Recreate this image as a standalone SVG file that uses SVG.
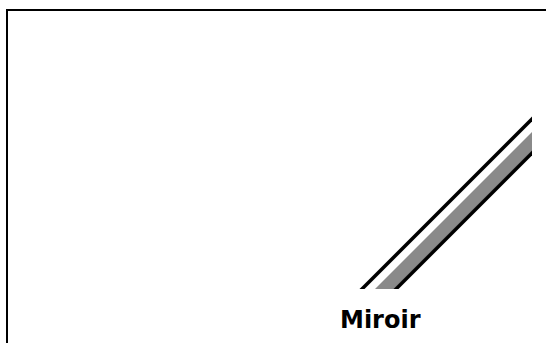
<svg xmlns="http://www.w3.org/2000/svg" width="546" height="343" viewBox="0 0 546 343">
  <style>
    .frame { fill: none; stroke: #000; stroke-width: 2; }
    .line { stroke: #000; stroke-width: 3.5; fill: none; }
    .band { fill: #8a8a8a; }
    .label { font-family: "DejaVu Sans", "Liberation Sans", sans-serif; font-weight: bold; font-size: 24px; fill: #000; }
  </style>
  <defs>
    <clipPath id="mirrorClip">
      <rect x="0" y="0" width="532" height="289"/>
    </clipPath>
  </defs>
  <rect width="546" height="343" fill="#fff"/>
  <rect class="frame" x="7" y="10" width="600" height="400"/>
  <g id="miroir">
    <g clip-path="url(#mirrorClip)">
      <polygon class="band" points="364,300 545,119 545,138 383,300"/>
      <line class="line" x1="351" y1="300" x2="545" y2="106"/>
      <line class="line" x1="385" y1="300" x2="545" y2="140"/>
    </g>
    <text class="label" x="340" y="328">Miroir</text>
  </g>
</svg>
